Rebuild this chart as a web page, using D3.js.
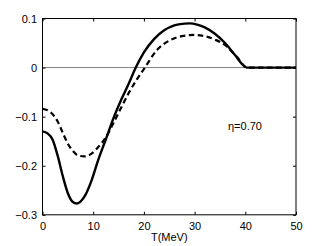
<!DOCTYPE html>
<html>
<head>
<meta charset="utf-8">
<script src="https://cdn.jsdelivr.net/npm/d3@7"></script>
<style>
  body { margin: 0; background: #fff; }
  text { font-family: "Liberation Sans", Arial, Helvetica, sans-serif; }
</style>
</head>
<body>
<svg id="chart" width="327" height="246"></svg>
<script>
// solid curve
var solidT = [0, 1, 2, 3, 4, 5, 6, 6.7, 7.5, 8.5, 9.5, 11, 12.5, 14, 15.5, 17, 18.4, 20, 22, 24, 26, 28, 29.1, 30.5, 32, 34, 36, 38, 39.5, 40.3, 42, 46, 50];
var solidV = [-0.130, -0.134, -0.147, -0.180, -0.221, -0.256, -0.274, -0.277, -0.273, -0.259, -0.235, -0.188, -0.146, -0.103, -0.066, -0.033, 0.000, 0.031, 0.058, 0.076, 0.086, 0.0895, 0.090, 0.0875, 0.082, 0.069, 0.050, 0.025, 0.006, 0.000, 0, 0, 0];

// dashed curve
var dashT = [0, 1, 2, 3, 4, 5, 6, 7, 8.3, 9.6, 11, 12.5, 14, 15.5, 17, 18.5, 20.2, 22.5, 25, 27.5, 30, 32, 34, 36, 37.5, 38.5, 39.5, 40.3, 42, 46, 50];
var dashV = [-0.084, -0.087, -0.095, -0.110, -0.133, -0.155, -0.170, -0.179, -0.181, -0.176, -0.162, -0.142, -0.113, -0.082, -0.052, -0.026, 0.000, 0.035, 0.055, 0.064, 0.0665, 0.064, 0.057, 0.046, 0.031, 0.020, 0.006, 0, 0, 0, 0];

var xTicks = [0, 10, 20, 30, 40, 50];
var yTicks = [-0.3, -0.2, -0.1, 0, 0.1];
var labelText = "\u03b7=0.70";

// plot box, in pixels
var boxL = 42.5, boxR = 296, boxT = 18.5, boxB = 214.8;

var svg = d3.select("#chart");

var x = d3.scaleLinear().domain([0, 50]).range([boxL, boxR]);
var y = d3.scaleLinear().domain([-0.3, 0.1]).range([boxB, boxT]);

var fmt = function (d) { return d === 0 ? "0" : d3.format(".1f")(d); };

// zero line
svg.append("line")
  .attr("x1", boxL).attr("x2", boxR)
  .attr("y1", y(0)).attr("y2", y(0))
  .attr("stroke", "#808080").attr("stroke-width", 1);

// axes, ticks pointing inward like matlab
function styleAxis(g) {
  g.select(".domain").remove();
  g.selectAll(".tick line").attr("stroke", "#000");
  g.selectAll("text").attr("font-size", 11).attr("fill", "#000");
}

svg.append("g")
  .attr("transform", "translate(0," + boxB + ")")
  .call(d3.axisBottom(x).tickValues(xTicks).tickSize(-3).tickPadding(7).tickFormat(d3.format("d")))
  .call(styleAxis);

svg.append("g")
  .attr("transform", "translate(0," + boxT + ")")
  .call(d3.axisTop(x).tickValues(xTicks).tickSize(-3).tickFormat(""))
  .call(styleAxis);

svg.append("g")
  .attr("transform", "translate(" + boxL + ",0)")
  .call(d3.axisLeft(y).tickValues(yTicks).tickSize(-3).tickPadding(5.5).tickFormat(fmt))
  .call(styleAxis);

svg.append("g")
  .attr("transform", "translate(" + boxR + ",0)")
  .call(d3.axisRight(y).tickValues(yTicks).tickSize(-3).tickFormat(""))
  .call(styleAxis);

// box
svg.append("rect")
  .attr("x", boxL).attr("y", boxT)
  .attr("width", boxR - boxL).attr("height", boxB - boxT)
  .attr("fill", "none").attr("stroke", "#000").attr("stroke-width", 1);

var line = d3.line()
  .x(function (d) { return x(d[0]); })
  .y(function (d) { return y(d[1]); })
  .curve(d3.curveMonotoneX);

var dashData = dashT.map(function (t, i) { return [t, dashV[i]]; });
var solidData = solidT.map(function (t, i) { return [t, solidV[i]]; });

svg.append("path")
  .datum(dashData)
  .attr("d", line)
  .attr("fill", "none")
  .attr("stroke", "#000")
  .attr("stroke-width", 2.2)
  .attr("stroke-dasharray", "5.5,3.5");

svg.append("path")
  .datum(solidData)
  .attr("d", line)
  .attr("fill", "none")
  .attr("stroke", "#000")
  .attr("stroke-width", 2.4);

// x axis title
svg.append("text")
  .attr("x", (boxL + boxR) / 2)
  .attr("y", 241)
  .attr("text-anchor", "middle")
  .attr("font-size", 11)
  .text("T(MeV)");

// eta label
svg.append("text")
  .attr("x", 228)
  .attr("y", 129.5)
  .attr("font-size", 11)
  .text(labelText);
</script>
</body>
</html>
